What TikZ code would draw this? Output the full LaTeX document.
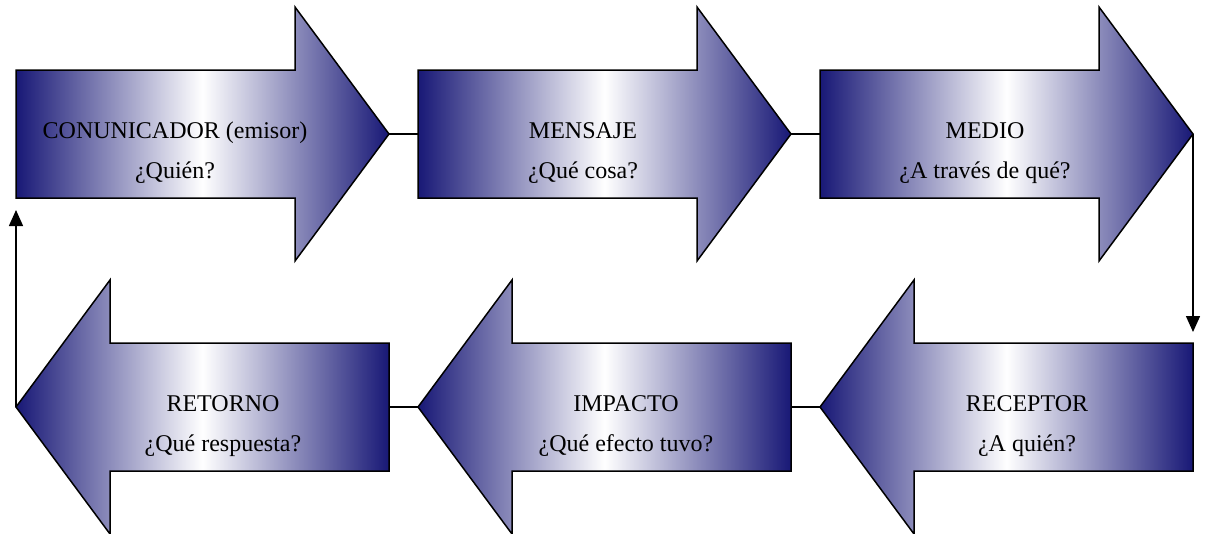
\documentclass[tikz,border=0pt]{standalone}
\usepackage{fontspec}
\setmainfont{Liberation Serif}
\usetikzlibrary{calc,arrows.meta}
\definecolor{marino}{RGB}{24,24,118}
\tikzset{
  flecha/.pic={
    \shadedraw[left color=marino, right color=marino, middle color=white, line width=1.5pt, line join=miter]
      (0,-64) -- (279,-64) -- (279,-127) -- (373,0) -- (279,127) -- (279,64) -- (0,64) -- cycle;
    \coordinate (-cola) at (0,0);
    \coordinate (-punta) at (373,0);
  },
  texto/.style={align=center, font=\fontsize{24}{40}\selectfont, inner sep=0pt},
  conector/.style={line width=1.5pt},
  punta/.style={-{Triangle[length=16pt,width=14pt]}},
}

\begin{document}
\begin{tikzpicture}[x=1pt,y=-1pt]
\useasboundingbox (0,0) rectangle (1205,533);
% fila de arriba
\pic (comunicador) at (16,134) {flecha};
\pic (mensaje) at (418,134) {flecha};
\pic (medio) at (820,134) {flecha};
% fila de abajo
\pic[xscale=-1] (receptor) at (1193,407) {flecha};
\pic[xscale=-1] (impacto) at (791,407) {flecha};
\pic[xscale=-1] (retorno) at (389,407) {flecha};
\node[texto] (comunicador-txt) at ($(comunicador-cola)+(159,19)$) {CONUNICADOR (emisor)\\¿Quién?};
\node[texto] (mensaje-txt) at ($(mensaje-cola)+(165,19)$) {MENSAJE\\¿Qué cosa?};
\node[texto] (medio-txt) at ($(medio-cola)+(165,19)$) {MEDIO\\¿A través de qué?};
\node[texto] (receptor-txt) at ($(receptor-cola)+(-166,19)$) {RECEPTOR\\¿A quién?};
\node[texto] (impacto-txt) at ($(impacto-cola)+(-165,19)$) {IMPACTO\\¿Qué efecto tuvo?};
\node[texto] (retorno-txt) at ($(retorno-cola)+(-166,19)$) {RETORNO\\¿Qué respuesta?};
\coordinate (bajada) at (1193,332);
\coordinate (subida) at (16,210);
\draw[conector]
  (comunicador-punta) -- (mensaje-cola);
\draw[conector]
  (mensaje-punta) -- (medio-cola);
\draw[conector, punta]
  (medio-punta) -- (bajada);
\draw[conector]
  (receptor-punta) -- (impacto-cola);
\draw[conector]
  (impacto-punta) -- (retorno-cola);
\draw[conector, punta]
  (retorno-punta) -- (subida);
\end{tikzpicture}
\end{document}
